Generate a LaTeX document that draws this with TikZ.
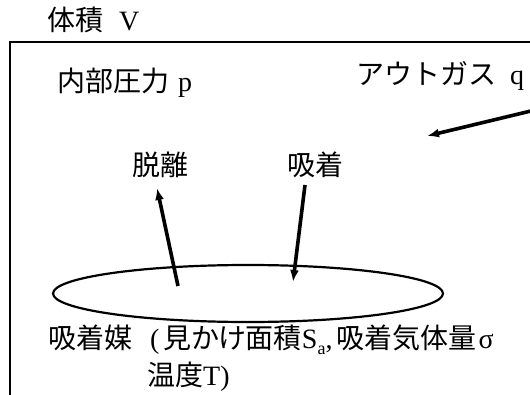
\documentclass[tikz,border=0pt]{standalone}
\usepackage{fontspec}
\setmainfont{Liberation Serif}
\newfontfamily\jp{Noto Sans CJK JP}
\newfontfamily\jpp[RawFeature=+palt]{Noto Sans CJK JP}
\usetikzlibrary{arrows.meta,shapes.geometric}
\tikzset{
  lbl/.style={inner sep=0pt, anchor=base west, font=\fontsize{28}{33}\selectfont},
  thickarrow/.style={line width=3.6pt, -{Latex[length=12pt,width=9pt]}},
  frame/.style={line width=2.8pt},
  disc/.style={line width=2.2pt}
}
\begin{document}
\begin{tikzpicture}[x=1pt,y=1pt]
\useasboundingbox (0,0) rectangle (530,394);
\clip (0,0) rectangle (530,394);
% container (extends beyond right and bottom)
\draw[frame] (10,-20) -- (10,352) -- (560,352);
% labels
\node[lbl] (vol) at (47,363) {{\jp 体積}\hspace{16pt}V};
\node[lbl] (pres) at (57,302) {{\jp 内部圧力}\hspace{9pt}p};
\node[lbl] (out) at (356,309) {{\jp アウトガス}\hspace{14pt}q};
\node[lbl] (des) at (132,218) {\jp 脱離};
\node[lbl] (ads) at (287,218) {\jp 吸着};
% adsorbent ellipse
\node[disc, draw, ellipse, minimum width=390pt, minimum height=57pt, inner sep=0pt] (sorb) at (248,100.5) {};
\node[lbl] (sorbtxt) at (48,46) {{\jp 吸着媒}\hspace{18pt}(\hspace{4pt}{\jpp 見かけ面積}S\raisebox{-6pt}{\fontsize{18}{18}\selectfont a},\hspace{4pt}{\jp 吸着気体量}\hspace{2pt}σ};
\node[lbl] (sorbtxt2) at (147,9) {{\jp 温度}T)};
% arrows
\coordinate (desTail) at (178,108);
\coordinate (desTip) at (157,206);
\coordinate (adsTail) at (305,209);
\coordinate (adsTip) at (293,112);
\coordinate (outTail) at (560,290);
\coordinate (outTip) at (427,258);
\draw[thickarrow] (desTail) -- (desTip);
\draw[thickarrow] (adsTail) -- (adsTip);
\draw[thickarrow] (outTail) -- (outTip);
\end{tikzpicture}
\end{document}
